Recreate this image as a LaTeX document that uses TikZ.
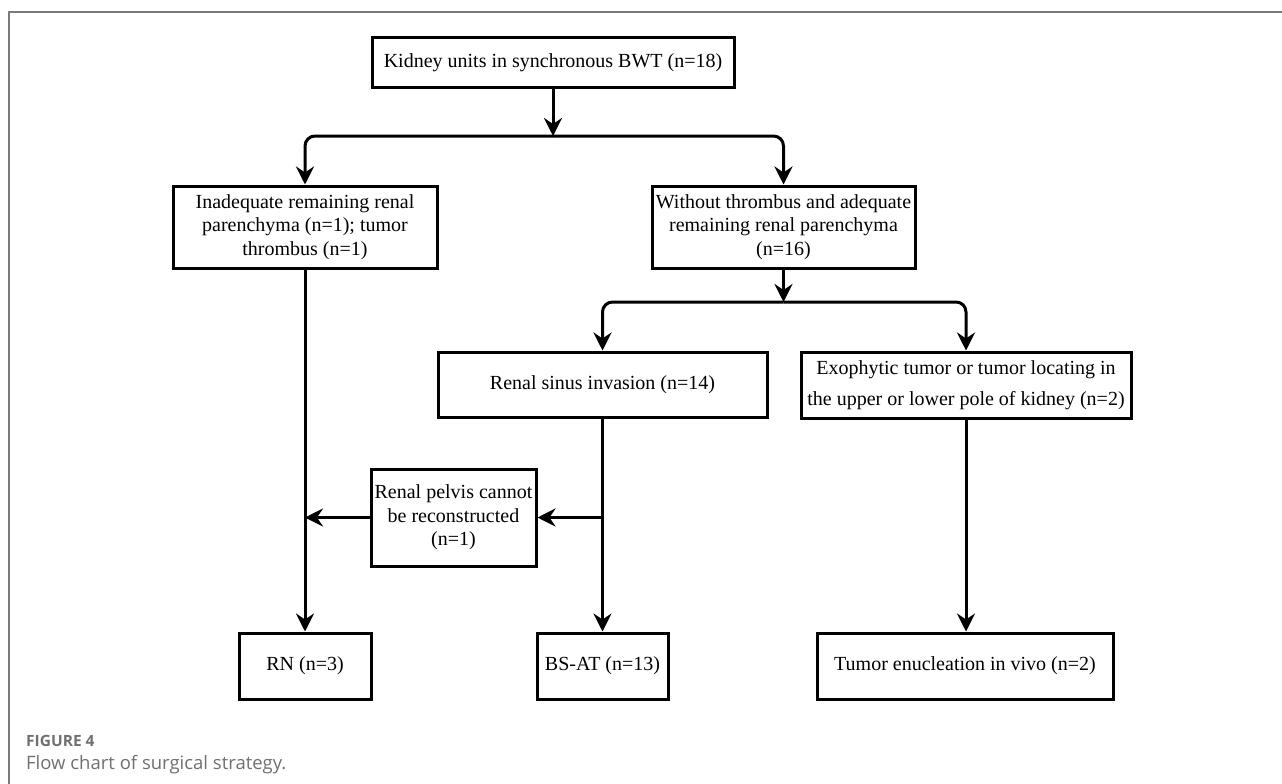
\documentclass[tikz,border=0pt]{standalone}
\usepackage{fontspec}
\setmainfont{Liberation Serif}
\newfontfamily\capfont{Open Sans}
\usetikzlibrary{arrows.meta}
\definecolor{framegray}{HTML}{7A7A7A}
\definecolor{capgray}{HTML}{707070}
\tikzset{
  stepbox/.style={draw, line width=3pt, align=center, inner sep=0pt,
    font=\fontsize{20}{23.5}\selectfont},
  flowarrow/.style={line width=3pt, -{Stealth[length=18pt, width=18pt, inset=6pt]}},
  flowline/.style={line width=3pt}
}
\begin{document}
\begin{tikzpicture}[x=1pt, y=-1pt]
    \useasboundingbox (0,0) rectangle (1282,784);
    % The frame
    \draw[framegray, line width=1.2pt] (9,784) -- (9,12) -- (1282,12);

    % The boxes
    \node[stepbox, minimum width=362, minimum height=49] (kidney) at (553,62.5) {Kidney units in synchronous BWT (n=18)};
    \node[stepbox, minimum width=264, minimum height=82] (inadequate) at (305,227) {Inadequate remaining renal\\parenchyma (n=1); tumor\\thrombus (n=1)};
    \node[stepbox, minimum width=263, minimum height=82] (without) at (783.5,227) {Without thrombus and adequate\\remaining renal parenchyma\\(n=16)};
    \node[stepbox, minimum width=329, minimum height=65] (sinus) at (602.5,384.5) {Renal sinus invasion (n=14)};
    \node[stepbox, minimum width=330, minimum height=66] (exophytic) at (966,385) {Exophytic tumor or tumor locating in\\[7pt]the upper or lower pole of kidney (n=2)};
    \node[stepbox, minimum width=165, minimum height=97] (pelvis) at (453.5,517.5) {Renal pelvis cannot\\be reconstructed\\(n=1)};
    \node[stepbox, minimum width=132, minimum height=66] (rn) at (305,666) {RN (n=3)};
    \node[stepbox, minimum width=131, minimum height=66] (bsat) at (602.5,666) {BS-AT (n=13)};
    \node[stepbox, minimum width=296, minimum height=66] (enucleation) at (965,666) {Tumor enucleation in vivo (n=2)};

    % The splits
    \coordinate (split1) at (553,136);
    \coordinate (split2) at (783.5,302);
    \coordinate (fork) at (602.5,517.5);

    \draw[flowarrow] (kidney.south) -- (split1);
    \draw[flowarrow, rounded corners=10pt] (split1) -| (inadequate.north);
    \draw[flowarrow, rounded corners=10pt] (split1) -| (without.north);
    \draw[flowarrow] (without.south) -- (split2);
    \draw[flowarrow, rounded corners=10pt] (split2) -| (sinus.north);
    \draw[flowarrow, rounded corners=10pt] (split2) -| (exophytic.north);

    % The outcomes
    \draw[flowarrow] (inadequate.south) -- (rn.north);
    \draw[flowarrow] (sinus.south) -- (bsat.north);
    \draw[flowarrow] (fork) -- (pelvis.east);
    \draw[flowarrow] (pelvis.west) -- (pelvis.west -| rn.north);
    \draw[flowarrow] (exophytic.south) -- (exophytic.south |- enucleation.north);

    % Caption
    \node[anchor=west, inner sep=0pt, text=capgray, font=\capfont\bfseries\fontsize{15.5}{18}\selectfont] (figlabel) at (26,741) {FIGURE 4};
    \node[anchor=west, inner sep=0pt, text=capgray, font=\capfont\fontsize{18.5}{22}\selectfont] (figtitle) at (26,765) {Flow chart of surgical strategy.};
\end{tikzpicture}
\end{document}
